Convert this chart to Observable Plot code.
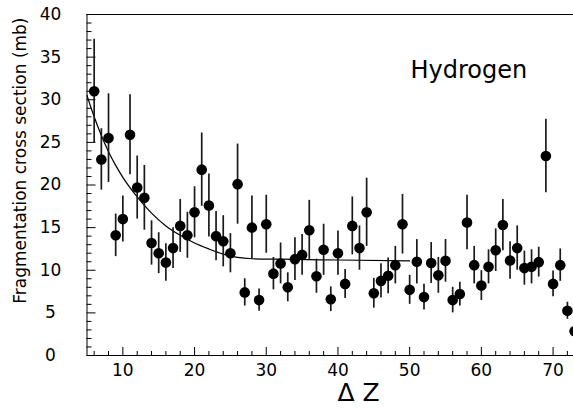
<!DOCTYPE html>
<html><head><meta charset="utf-8">
<script src="https://cdn.jsdelivr.net/npm/d3@7"></script>
<script src="https://cdn.jsdelivr.net/npm/@observablehq/plot@0.6"></script>
<style>html,body{margin:0;padding:0;background:#fff;overflow:hidden}svg{overflow:hidden}</style>
</head><body><div id="chart"></div>
<script>
const deltaZ = [6,7,8,9,10,11,12,13,14,15,16,17,18,19,20,21,22,23,24,25,26,27,28,29,30,31,32,33,34,35,36,37,38,39,40,41,42,43,44,45,46,47,48,49,50,51,52,53,54,55,56,57,58,59,60,61,62,63,64,65,66,67,68,69,70,71,72,73];
const sigma = [31.0,23.0,25.5,14.1,16.0,25.9,19.7,18.5,13.2,12.0,10.9,12.6,15.2,14.1,16.8,21.8,17.6,14.0,13.4,12.0,20.1,7.4,15.0,6.5,15.4,9.6,10.8,8.0,11.3,11.8,14.7,9.3,12.4,6.6,12.0,8.4,15.2,12.6,16.8,7.3,8.75,9.35,10.6,15.4,7.7,11.0,6.85,10.85,9.4,11.1,6.5,7.2,15.6,10.6,8.2,10.4,12.35,15.3,11.15,12.6,10.25,10.4,10.95,23.4,8.4,10.6,5.25,2.85];
const sigmaErr = [6.1,3.6,5.2,2.5,2.7,4.7,3.7,3.8,2.6,2.4,2.2,2.4,3.1,2.7,3.0,4.3,3.7,2.9,3.0,2.3,4.7,1.6,3.7,1.3,3.4,1.9,2.4,1.7,2.5,2.4,3.5,2.0,3.0,1.45,2.6,1.7,3.4,2.6,4.0,1.75,2.0,2.1,2.2,3.5,1.7,2.6,1.5,2.4,2.1,2.5,1.5,1.4,3.2,2.2,1.75,2.0,2.5,3.0,2.2,2.6,2.0,2.0,1.75,4.3,1.5,1.9,1.0,0.8];
const fitZ = [5,6,7,8,9,10,12,14,16,18,20,22,24,26,28,32,40,50];
const fitSigma = [30.5,28.0,25.8,23.9,22.3,20.9,18.6,16.7,15.2,14.1,13.2,12.5,11.9,11.5,11.35,11.3,11.2,11.1];
const xTicksMajor = [10,20,30,40,50,60,70];
const xTicksMinor = [6,8,12,14,16,18,22,24,26,28,32,34,36,38,42,44,46,48,52,54,56,58,62,64,66,68,72];
const yTicksMajor = [0,5,10,15,20,25,30,35,40];
const yTicksMinor = [1,2,3,4,6,7,8,9,11,12,13,14,16,17,18,19,21,22,23,24,26,27,28,29,31,32,33,34,36,37,38,39];
const xTitle = "Δ Z";
const yTitle = "Fragmentation cross section (mb)";
const legendText = "Hydrogen";

const points = deltaZ.map((z, i) => ({z, s: sigma[i], lo: sigma[i] - sigmaErr[i], hi: sigma[i] + sigmaErr[i]}));
const fit = fitZ.map((z, i) => ({z, s: fitSigma[i]}));

const W = 573, H = 409, mL = 86.5, mT = 14, mB = 54, mR = 0;
const frameW = W - mL - mR, frameH = H - mT - mB;

const chart = Plot.plot({
  width: W, height: H,
  marginLeft: mL, marginTop: mT, marginBottom: mB, marginRight: mR,
  style: {fontFamily: "DejaVu Sans", fontSize: "17px", background: "#fff", color: "#000"},
  x: {domain: [5, 72.85]},
  y: {domain: [0, 40]},
  marks: [
    Plot.ruleY([0, 40], {stroke: "#000", strokeWidth: 1}),
    Plot.ruleX([5], {stroke: "#000", strokeWidth: 1}),
    Plot.tickX(xTicksMajor, {x: d => d, insetTop: frameH - 8, stroke: "#000"}),
    Plot.tickX(xTicksMinor, {x: d => d, insetTop: frameH - 4, stroke: "#000"}),
    Plot.tickY(yTicksMajor, {y: d => d, insetRight: frameW - 9, stroke: "#000"}),
    Plot.tickY(yTicksMinor, {y: d => d, insetRight: frameW - 5, stroke: "#000"}),
    Plot.axisX(xTicksMajor, {anchor: "bottom", tickSize: 0, tickPadding: 8, fontSize: 17, label: null}),
    Plot.axisY(yTicksMajor, {anchor: "left", tickSize: 0, tickPadding: 36.5, textAnchor: "middle", fontSize: 17, label: null}),
    Plot.line(fit, {x: "z", y: "s", curve: "monotone-x", stroke: "#000", strokeWidth: 1.2}),
    Plot.ruleX(points, {x: "z", y1: "lo", y2: "hi", stroke: "#1a1a1a", strokeWidth: 1.7}),
    Plot.dot(points, {x: "z", y: "s", r: 5.3, fill: "#000", stroke: "none"}),
    Plot.text([legendText], {text: d => d, frameAnchor: "top-left", dx: 323.5, dy: 46, textAnchor: "start", lineAnchor: "top", fontSize: 24}),
    Plot.text([xTitle], {text: d => d, frameAnchor: "bottom-left", dx: 271.5, dy: 28, textAnchor: "middle", lineAnchor: "top", fontSize: 25}),
    Plot.text([yTitle], {text: d => d, frameAnchor: "top-left", dx: -66, dy: 3, rotate: -90, textAnchor: "end", lineAnchor: "middle", fontSize: 17})
  ]
});
document.getElementById("chart").appendChild(chart);
</script>
</body></html>
